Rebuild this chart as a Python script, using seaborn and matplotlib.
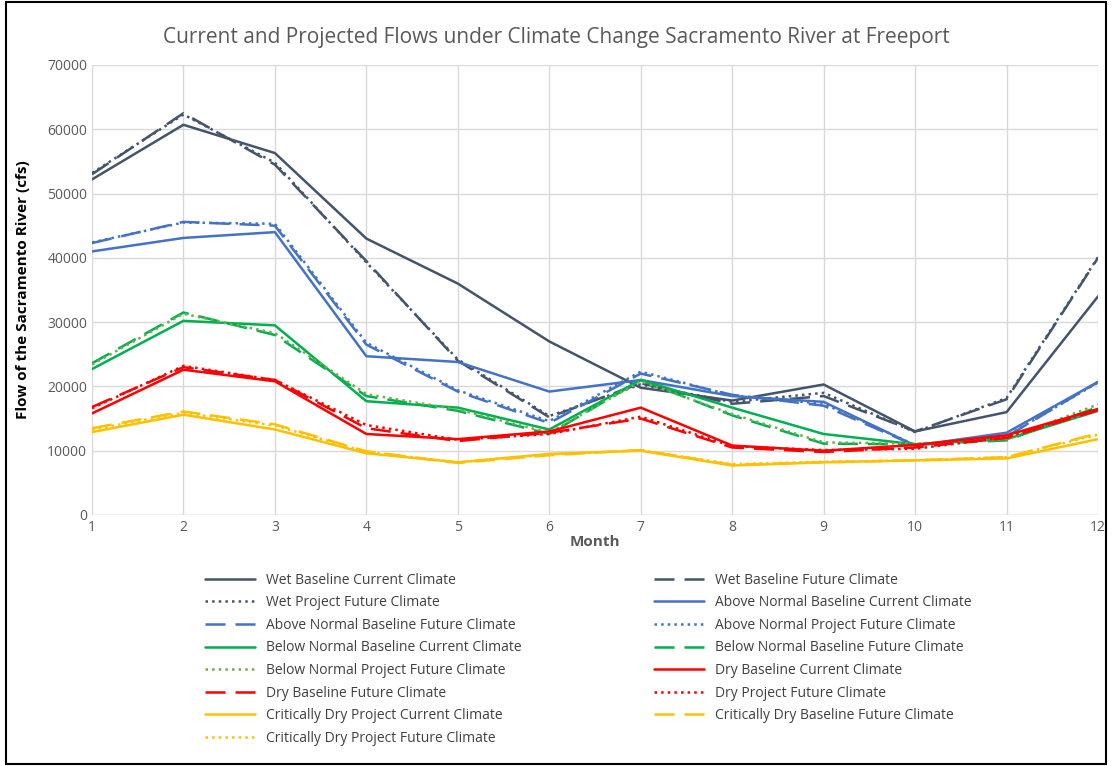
import matplotlib
matplotlib.use("Agg")
import matplotlib.pyplot as plt
import seaborn as sns
import pandas as pd

months = list(range(1, 13))

wet_base_cur = [52200, 60700, 56300, 43000, 36000, 27000, 19800, 17800, 20300, 13000, 16000, 34000]
wet_base_fut = [53000, 62500, 54500, 39500, 24000, 15200, 20500, 17300, 18500, 13000, 18000, 40000]
wet_proj_fut = [53200, 62300, 54800, 39300, 24200, 15400, 20300, 17600, 19000, 12900, 18200, 40100]
an_base_cur = [41000, 43100, 44000, 24700, 23800, 19200, 21000, 18500, 17600, 10800, 12800, 20700]
an_base_fut = [42300, 45600, 45000, 26500, 19200, 14300, 22000, 18700, 17000, 10800, 12200, 20700]
an_proj_fut = [42400, 45500, 45300, 26800, 19400, 14600, 22300, 18600, 17300, 10900, 12300, 20600]
bn_base_cur = [22700, 30200, 29500, 17700, 16700, 13300, 21000, 16700, 12600, 11000, 11800, 16200]
bn_base_fut = [23600, 31500, 28000, 18500, 16200, 12600, 21000, 15500, 11100, 11000, 11600, 16800]
bn_proj_fut = [23400, 31300, 28300, 18800, 16400, 12800, 20800, 15700, 11300, 11100, 11800, 17200]
dry_base_cur = [15800, 22600, 20800, 12600, 11800, 13000, 16700, 10800, 10000, 10900, 12400, 16500]
dry_base_fut = [16800, 23000, 21000, 13500, 11500, 12800, 15000, 10500, 9800, 10500, 12000, 16300]
dry_proj_fut = [16600, 23200, 21000, 14000, 11700, 12600, 15300, 10700, 10100, 10300, 12100, 16400]
cd_cur = [12900, 15600, 13300, 9600, 8200, 9500, 10000, 7700, 8200, 8500, 8800, 11800]
cd_base_fut = [13500, 16100, 14100, 9900, 8100, 9300, 10100, 7800, 8200, 8500, 9000, 12700]
cd_proj_fut = [13300, 15900, 13900, 9800, 8200, 9400, 10100, 7900, 8300, 8500, 9000, 12500]

series = [
    ("Wet Baseline Current Climate", wet_base_cur, "#44546A", "-"),
    ("Wet Baseline Future Climate", wet_base_fut, "#44546A", (0, (8, 4))),
    ("Wet Project Future Climate", wet_proj_fut, "#44546A", ":"),
    ("Above Normal Baseline Current Climate", an_base_cur, "#4472C4", "-"),
    ("Above Normal Baseline Future Climate", an_base_fut, "#4472C4", (0, (8, 4))),
    ("Above Normal Project Future Climate", an_proj_fut, "#4472C4", ":"),
    ("Below Normal Baseline Current Climate", bn_base_cur, "#00B050", "-"),
    ("Below Normal Baseline Future Climate", bn_base_fut, "#00B050", (0, (8, 4))),
    ("Below Normal Project Future Climate", bn_proj_fut, "#70AD47", ":"),
    ("Dry Baseline Current Climate", dry_base_cur, "#FF0000", "-"),
    ("Dry Baseline Future Climate", dry_base_fut, "#FF0000", (0, (8, 4))),
    ("Dry Project Future Climate", dry_proj_fut, "#FF0000", ":"),
    ("Critically Dry Project Current Climate", cd_cur, "#FFC000", "-"),
    ("Critically Dry Baseline Future Climate", cd_base_fut, "#FFC000", (0, (8, 4))),
    ("Critically Dry Project Future Climate", cd_proj_fut, "#FFC000", ":"),
]

sns.set_style("white")
plt.rcParams['font.family'] = ['Open Sans', 'DejaVu Sans']

fig = plt.figure(figsize=(11.12, 7.66), dpi=100)
ax = fig.add_axes([92/1112, 1-515/766, (1098-92)/1112, (515-65)/766])

for name, vals, color, ls in series:
    df = pd.DataFrame({"Month": months, "Flow": vals})
    sns.lineplot(data=df, x="Month", y="Flow", ax=ax, color=color, linestyle=ls,
                 linewidth=1.8, label=name)

ax.set_xlim(1, 12)
ax.set_ylim(0, 70000)
ax.set_xticks(months)
ax.set_yticks(range(0, 70001, 10000))
ax.grid(True, color="#D9D9D9", linewidth=1)
for s in ax.spines.values():
    s.set_visible(False)
ax.axhline(0, color="#D9D9D9", linewidth=1)
ax.tick_params(labelsize=10, colors="#595959", length=0)
ax.set_xlabel("Month", fontsize=11, fontweight="bold", color="#595959", labelpad=0)
ax.set_ylabel("Flow of the Sacramento River (cfs)", fontsize=11, fontweight="bold",
              color="black")
ax.yaxis.set_label_coords(-0.062, 0.5)
fig.text(0.5, 1 - 38/766, "Current and Projected Flows under Climate Change Sacramento River at Freeport",
         fontsize=15, color="#595959", ha="center", va="center")

# legend is filled row by row in the reference
handles, labels = ax.get_legend_handles_labels()
order = list(range(0, 15, 2)) + list(range(1, 15, 2))
ax.legend([handles[i] for i in order], [labels[i] for i in order],
          loc="upper left", bbox_to_anchor=(0.1, -0.1), ncol=2, frameon=False,
          fontsize=10, handlelength=3.6, handletextpad=0.8, columnspacing=9.5,
          labelspacing=0.55, labelcolor="#404040")

border = plt.Rectangle((0.005, 0.003), 0.99, 0.994, transform=fig.transFigure,
                       fill=False, edgecolor="black", linewidth=1.5)
fig.patches.append(border)

fig.savefig("out.png", dpi=100)
